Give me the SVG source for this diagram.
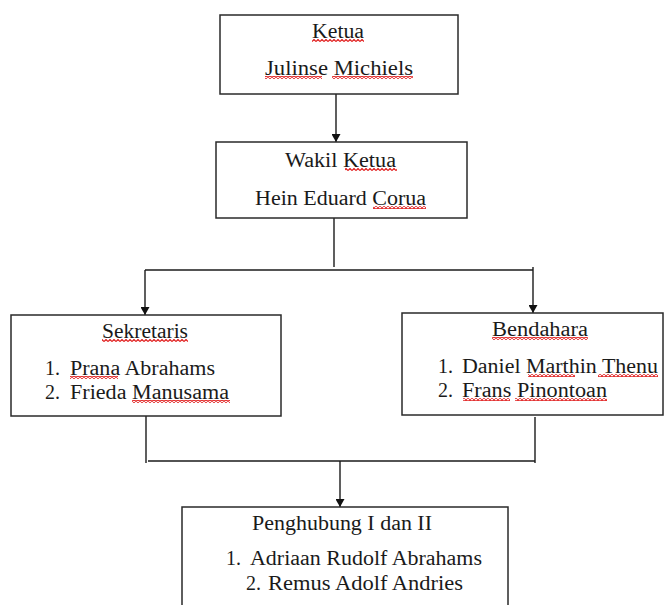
<svg xmlns="http://www.w3.org/2000/svg" width="665" height="605" viewBox="0 0 665 605">
  <defs>
    <marker id="arr" viewBox="0 0 8 9" refX="8" refY="4.5" markerWidth="8" markerHeight="9" markerUnits="userSpaceOnUse" orient="auto">
      <path d="M0,0 L8,4.5 L0,9 Z" fill="#111"/>
    </marker>
    <pattern id="sq" x="0" y="0" width="4" height="3" patternUnits="userSpaceOnUse">
      <path d="M0,2.5 L2,0.5 L4,2.5" fill="none" stroke="#e01818" stroke-width="1.2"/>
    </pattern>
  </defs>
  <style>
    .box { fill: #fff; stroke: #2a2a2a; stroke-width: 1.5; }
    .t { font-family: "Liberation Serif", "Times New Roman", serif; font-size: 20px; fill: #1a1a1a; }
    .ln { fill: none; stroke: #1a1a1a; stroke-width: 1.4; }
    .sq { fill: url(#sq); }
  </style>
  <rect width="665" height="605" fill="#fff"/>

  <g id="connectors">
    <line class="ln" x1="336" y1="94" x2="336" y2="142" marker-end="url(#arr)"/>
    <line class="ln" x1="334" y1="218" x2="334" y2="267"/>
    <line class="ln" x1="145" y1="270" x2="533" y2="270"/>
    <line class="ln" x1="145" y1="270" x2="145" y2="315" marker-end="url(#arr)"/>
    <line class="ln" x1="533" y1="267" x2="533" y2="313" marker-end="url(#arr)"/>
    <line class="ln" x1="146" y1="416" x2="146" y2="463"/>
    <line class="ln" x1="535" y1="417" x2="535" y2="463"/>
    <line class="ln" x1="148" y1="461" x2="535" y2="461"/>
    <line class="ln" x1="340" y1="461" x2="340" y2="507" marker-end="url(#arr)"/>
  </g>

  <g id="ketua">
    <rect class="box" x="220" y="15" width="238" height="79"/>
    <text class="t" x="312" y="38" textLength="52" lengthAdjust="spacingAndGlyphs">Ketua</text>
    <text class="t" x="265" y="75" textLength="148" lengthAdjust="spacingAndGlyphs">Julinse Michiels</text>
    <rect class="sq" x="312" y="39" width="52" height="3"/>
    <rect class="sq" x="265" y="76" width="57" height="3"/>
    <rect class="sq" x="332" y="76" width="81" height="3"/>
  </g>

  <g id="wakil-ketua">
    <rect class="box" x="216" y="142" width="251" height="76"/>
    <text class="t" x="285" y="167" textLength="111" lengthAdjust="spacingAndGlyphs">Wakil Ketua</text>
    <text class="t" x="255" y="205" textLength="171" lengthAdjust="spacingAndGlyphs">Hein Eduard Corua</text>
    <rect class="sq" x="345" y="168" width="52" height="3"/>
    <rect class="sq" x="373" y="206" width="53" height="3"/>
  </g>

  <g id="sekretaris">
    <rect class="box" x="11" y="315" width="270" height="101"/>
    <text class="t" x="102" y="338" textLength="86" lengthAdjust="spacingAndGlyphs">Sekretaris</text>
    <text class="t" x="45" y="375">1.</text>
    <text class="t" x="70" y="375" textLength="145" lengthAdjust="spacingAndGlyphs">Prana Abrahams</text>
    <text class="t" x="45" y="399">2.</text>
    <text class="t" x="70" y="399" textLength="159" lengthAdjust="spacingAndGlyphs">Frieda Manusama</text>
    <rect class="sq" x="102" y="339" width="86" height="3"/>
    <rect class="sq" x="70" y="376" width="48" height="3"/>
    <rect class="sq" x="132" y="400" width="98" height="3"/>
  </g>

  <g id="bendahara">
    <rect class="box" x="402" y="313" width="261" height="102"/>
    <text class="t" x="492" y="336" textLength="96" lengthAdjust="spacingAndGlyphs">Bendahara</text>
    <text class="t" x="438" y="373">1.</text>
    <text class="t" x="462" y="373" textLength="196" lengthAdjust="spacingAndGlyphs">Daniel Marthin Thenu</text>
    <text class="t" x="438" y="397">2.</text>
    <text class="t" x="462" y="397" textLength="145" lengthAdjust="spacingAndGlyphs">Frans Pinontoan</text>
    <rect class="sq" x="492" y="337" width="96" height="3"/>
    <rect class="sq" x="528" y="374" width="47" height="3"/>
    <rect class="sq" x="598" y="374" width="60" height="3"/>
    <rect class="sq" x="463" y="398" width="47" height="3"/>
    <rect class="sq" x="515" y="398" width="92" height="3"/>
  </g>

  <g id="penghubung">
    <rect class="box" x="182" y="507" width="326" height="110"/>
    <text class="t" x="252" y="530" textLength="180" lengthAdjust="spacingAndGlyphs">Penghubung I dan II</text>
    <text class="t" x="226" y="565">1.</text>
    <text class="t" x="250" y="565" textLength="232" lengthAdjust="spacingAndGlyphs">Adriaan Rudolf Abrahams</text>
    <text class="t" x="246" y="590">2.</text>
    <text class="t" x="268" y="590" textLength="195" lengthAdjust="spacingAndGlyphs">Remus Adolf Andries</text>
  </g>
</svg>
